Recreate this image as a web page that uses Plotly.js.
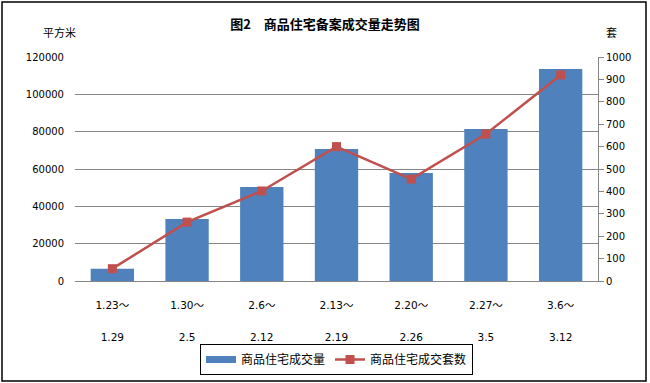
<!DOCTYPE html>
<html>
<head>
<meta charset="utf-8">
<script src="https://cdn.plot.ly/plotly-3.0.1.min.js"></script>
<style>
html,body{margin:0;padding:0;background:#fff;}
#chart{width:650px;height:383px;}
</style>
</head>
<body>
<div id="chart"></div>
<script>
const periodStart = ["1.23～","1.30～","2.6～","2.13～","2.20～","2.27～","3.6～"];
const periodEnd = ["1.29","2.5","2.12","2.19","2.26","3.5","3.12"];
const areaValues = [6500, 33200, 50400, 70700, 57900, 81400, 113600];
const unitValues = [55, 263, 402, 600, 455, 656, 920];
const barName = "商品住宅成交量";
const lineName = "商品住宅成交套数";
const titleText = "图2　商品住宅备案成交量走势图";
const leftUnit = "平方米";
const rightUnit = "套";

const idx = periodStart.map((_, i) => i);

const cjk = '"Noto Sans CJK SC", "DejaVu Sans", sans-serif';
const num = '"DejaVu Sans", "Noto Sans CJK SC", sans-serif';

const W = 650, H = 383, ml = 75, mr = 52, mt = 57, mb = 102;
const pw = W - ml - mr, ph = H - mt - mb;
const px = x => (x - ml) / pw;
const py = y => (H - mb - y) / ph;

const traces = [
  {
    type: 'scatter', mode: 'lines', name: barName, x: [null], y: [null],
    line: {color: '#4F81BD', width: 7}, showlegend: true, hoverinfo: 'skip'
  },
  {
    type: 'bar', name: barName, x: idx, y: areaValues,
    marker: {color: '#4F81BD'}, xaxis: 'x', yaxis: 'y', showlegend: false
  },
  {
    type: 'scatter', mode: 'lines+markers', name: lineName, x: idx, y: unitValues,
    line: {color: '#C0504D', width: 2.5},
    marker: {symbol: 'square', size: 9, color: '#C0504D'},
    xaxis: 'x2', yaxis: 'y2'
  }
];

const layout = {
  width: W, height: H,
  margin: {l: ml, r: mr, t: mt, b: mb, autoexpand: false},
  paper_bgcolor: '#fff', plot_bgcolor: '#fff',
  showlegend: true,
  bargap: 0.42,
  title: {text: '<b>' + titleText + '</b>', font: {family: cjk, size: 13, color: '#000'}, x: 0.5, xanchor: 'center', y: 0.935, yanchor: 'middle'},
  font: {family: num, size: 10, color: '#000'},
  xaxis: {
    tickvals: idx, ticktext: periodStart, range: [-0.5, 6.5],
    showline: true, linecolor: '#868686', linewidth: 1,
    showgrid: false, zeroline: false, ticks: '', automargin: false,
    ticklabelstandoff: 14,
    tickfont: {family: num, size: 10.5, color: '#000'}
  },
  xaxis2: {
    overlaying: 'x', side: 'bottom', anchor: 'y2',
    tickvals: idx, ticktext: periodEnd, range: [-0.5, 6.5],
    showline: false, showgrid: false, zeroline: false, ticks: '', automargin: false,
    ticklabelstandoff: 48,
    tickfont: {family: num, size: 10.5, color: '#000'}
  },
  yaxis: {
    range: [0, 120000], dtick: 20000, tickformat: 'd',
    showgrid: true, gridcolor: '#868686', gridwidth: 1,
    showline: false, zeroline: false, ticks: '', automargin: false,
    tickfont: {family: num, size: 10, color: '#000'},
    ticklabelstandoff: 10
  },
  yaxis2: {
    overlaying: 'y', side: 'right', anchor: 'x2',
    range: [0, 1000], dtick: 100,
    showgrid: false, zeroline: false, automargin: false,
    showline: true, linecolor: '#868686', linewidth: 1,
    ticks: 'outside', ticklen: 5, tickcolor: '#868686',
    tickfont: {family: num, size: 10, color: '#000'}
  },
  legend: {
    orientation: 'h', x: 0.5, xanchor: 'center', y: py(375), yanchor: 'bottom',
    bordercolor: '#000', borderwidth: 1, bgcolor: '#fff',
    font: {family: cjk, size: 12, color: '#000'},
    tracegroupgap: 0, itemwidth: 30
  },
  annotations: [
    {text: leftUnit, xref: 'paper', yref: 'paper', x: px(59), y: py(32), showarrow: false, font: {family: cjk, size: 11, color: '#000'}, xanchor: 'center', yanchor: 'middle'},
    {text: rightUnit, xref: 'paper', yref: 'paper', x: px(611), y: py(32), showarrow: false, font: {family: cjk, size: 11, color: '#000'}, xanchor: 'center', yanchor: 'middle'}
  ],
  shapes: [
    {type: 'rect', xref: 'paper', yref: 'paper', x0: px(2), x1: px(646), y0: py(381), y1: py(2), line: {color: '#000', width: 1.5}, fillcolor: 'rgba(0,0,0,0)', layer: 'above'}
  ]
};

Plotly.newPlot('chart', traces, layout, {displayModeBar: false, staticPlot: true});
</script>
</body>
</html>
